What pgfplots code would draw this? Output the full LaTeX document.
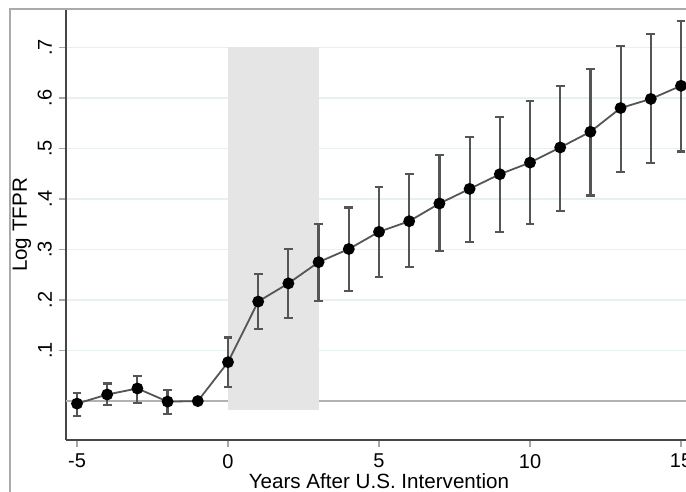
\documentclass[border=0pt]{standalone}
\usepackage{pgfplots}
\pgfplotsset{compat=1.18}
\usepackage{pgfplotstable}
\usepackage{fontspec}
\setmainfont{Liberation Sans}
\definecolor{gridc}{RGB}{232,240,241}
\definecolor{shade}{RGB}{229,229,229}
\definecolor{linec}{RGB}{85,85,85}
\definecolor{axc}{RGB}{70,70,70}
\definecolor{framec}{RGB}{170,170,170}
\pgfplotstableread{
x y ep em
-5 -0.005 0.021 0.024
-4 0.013 0.022 0.021
-3 0.025 0.025 0.028
-2 -0.001 0.023 0.025
-1 0 0 0
0 0.077 0.049 0.049
1 0.197 0.054 0.055
2 0.233 0.068 0.068
3 0.275 0.075 0.077
4 0.301 0.082 0.083
5 0.335 0.088 0.090
6 0.356 0.093 0.091
7 0.391 0.096 0.094
8 0.420 0.103 0.105
9 0.449 0.113 0.115
10 0.472 0.122 0.122
11 0.502 0.122 0.126
12 0.533 0.124 0.126
13 0.580 0.122 0.126
14 0.598 0.128 0.127
15 0.624 0.129 0.130
}\datatab
\begin{document}
\begin{tikzpicture}
\useasboundingbox (0,0) rectangle (343pt,246pt);
\clip (0,0) rectangle (343pt,246pt);
\draw[framec, line width=1pt] (5pt,-20pt) rectangle (400pt,241.5pt);
\begin{axis}[
  at={(33pt,26pt)}, anchor=south west,
  scale only axis, width=313pt, height=215pt,
  xmin=-5.364, xmax=15.364, ymin=-0.077, ymax=0.774,
  axis lines=left, axis line style={-, draw=axc, line width=0.7pt},
  xtick={-5,0,5,10,15},
  ytick={0.1,0.2,0.3,0.4,0.5,0.6,0.7},
  yticklabels={.1,.2,.3,.4,.5,.6,.7},
  tick align=outside, major tick length=3.5pt,
  tick style={draw=gray!70, line width=0.6pt},
  yticklabel style={rotate=90, anchor=south},
  ymajorgrids, major grid style={draw=gridc, line width=0.8pt},
  /pgf/number format/assume math mode=true,
  tick label style={font=\fontsize{10}{12}\selectfont},
  label style={font=\fontsize{10.3}{12}\selectfont},
  xlabel={Years After U.S. Intervention},
  ylabel={Log TFPR},
  xlabel style={at={(axis description cs:0.5,-0.0953)}, anchor=center},
  ylabel style={at={(axis description cs:-0.0705,0.5)}, anchor=center},
  clip=false,
]
\addplot[draw=gray!60, line width=0.9pt, forget plot] coordinates {(-5.364,0) (15.364,0)};
\addplot[fill=shade, draw=none, forget plot] coordinates {(0,-0.018) (0,0.7) (3,0.7) (3,-0.018)} -- cycle;
\addplot[draw=linec, line width=0.9pt, mark=*, mark size=2.5pt,
  mark options={fill=black, draw=black},
  error bars/.cd, y dir=both, y explicit,
  error bar style={draw=linec, line width=1.1pt},
  error mark options={rotate=90, mark size=2.2pt, draw=linec, line width=1.1pt}]
  table[x=x, y=y, y error plus=ep, y error minus=em] {\datatab};
\end{axis}
\end{tikzpicture}
\end{document}
